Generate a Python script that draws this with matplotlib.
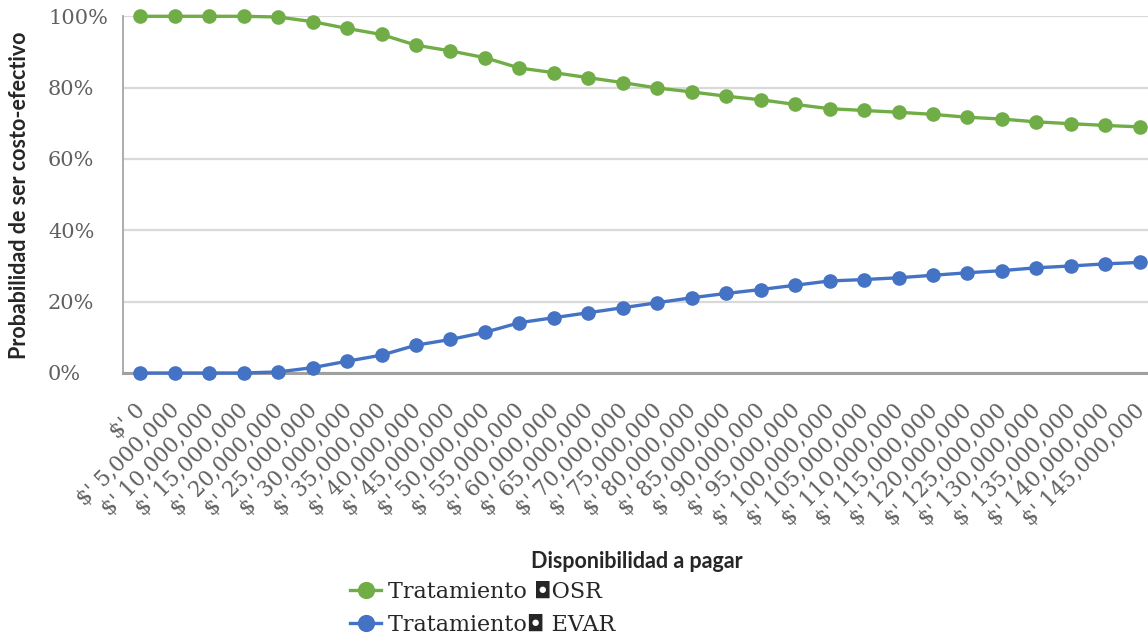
import matplotlib
matplotlib.use("Agg")
import matplotlib.pyplot as plt
import matplotlib.transforms as mtransforms
from matplotlib.ticker import PercentFormatter, FixedLocator

# Willingness to pay (pesos) and probability of each treatment being cost-effective
wtp_labels = ["$' 0"] + [f"$' {v:,}" for v in range(5_000_000, 150_000_000, 5_000_000)]
osr = [100, 100, 100, 100, 99.8, 98.5, 96.6, 94.9, 91.9, 90.3,
       88.4, 85.5, 84.2, 82.8, 81.4, 79.9, 78.8, 77.6, 76.6, 75.3,
       74.1, 73.6, 73.1, 72.5, 71.7, 71.2, 70.4, 69.9, 69.4, 69.0]
evar = [0, 0, 0, 0, 0.3, 1.5, 3.3, 5.0, 7.8, 9.4,
        11.4, 14.1, 15.5, 16.9, 18.3, 19.7, 21.1, 22.3, 23.4, 24.6,
        25.8, 26.2, 26.7, 27.4, 28.1, 28.7, 29.5, 30.0, 30.6, 31.0]
series_names = ["Tratamiento \u25d8OSR", "Tratamiento\u25d8 EVAR"]
series_colors = ["#70AD47", "#4472C4"]

W, H = 1148, 636
fig = plt.figure(figsize=(W / 100, H / 100), dpi=100)
ax = fig.add_axes([123 / W, 1 - 373 / H, 1034 / W, (373 - 16.3) / H])

x = list(range(len(wtp_labels)))
handles = []
for vals, name, col in zip([osr, evar], series_names, series_colors):
    h, = ax.plot(x, [v / 100 for v in vals], color=col, lw=2.4, marker="o",
                 ms=9.5, label=name, clip_on=False, zorder=3)
    handles.append(h)

ax.set_xlim(-0.5, len(x) - 0.5)
ax.set_ylim(0, 1)
ax.yaxis.set_major_locator(FixedLocator([0, 0.2, 0.4, 0.6, 0.8, 1.0]))
ax.yaxis.set_major_formatter(PercentFormatter(1.0, decimals=0))
ax.grid(axis="y", color="#D9D9D9", lw=1.6)
ax.set_axisbelow(True)

for s in ["top", "right"]:
    ax.spines[s].set_visible(False)
ax.spines["left"].set_color("#A6A6A6")
ax.spines["left"].set_linewidth(1.3)
ax.spines["bottom"].set_color("#A0A0A0")
ax.spines["bottom"].set_linewidth(2.2)

serif = ["DejaVu Serif", "DejaVu Sans"]
ax.set_xticks(x)
ax.set_xticklabels(wtp_labels, rotation=45, ha="right", rotation_mode="anchor",
                   family=serif, fontsize=15.5, color="#606060")
ax.tick_params(axis="x", length=0, pad=19)
ax.tick_params(axis="y", length=0, pad=54)
for lab in ax.get_yticklabels():
    lab.set_horizontalalignment("left")
    lab.set_family(serif)
    lab.set_fontsize(15)
    lab.set_color("#606060")

# nudge the slanted category labels a little to the left
shift = mtransforms.ScaledTranslation(-0.06, 0, fig.dpi_scale_trans)
for lab in ax.get_xticklabels():
    lab.set_transform(lab.get_transform() + shift)

fig.text(20 / W, 1 - 195 / H, "Probabilidad de ser costo-efectivo", rotation=90,
         ha="center", va="center", family="Lato", fontweight="bold",
         fontsize=15.5, color="#262626")
fig.text(637 / W, 1 - 562 / H, "Disponibilidad a pagar", ha="center", va="center",
         family="Lato", fontweight="bold", fontsize=15.5, color="#262626")

fig.legend(handles=handles, loc="upper left", bbox_to_anchor=(350 / W, 1 - 581 / H),
           frameon=False, prop={"family": serif, "size": 16}, handlelength=1.4,
           handletextpad=0.3, labelspacing=0.5, borderpad=0, borderaxespad=0,
           markerscale=1.2, labelcolor="#262626")

fig.savefig("out.png", dpi=100)
